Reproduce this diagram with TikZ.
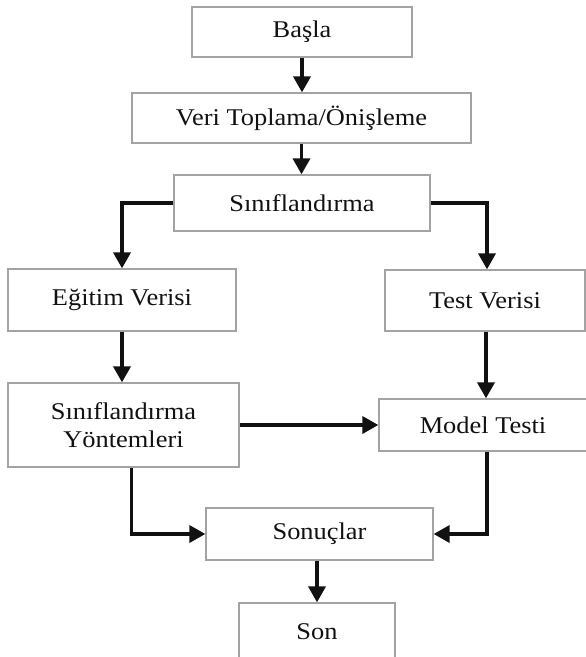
\documentclass[tikz,border=0pt]{standalone}
\usepackage{fontspec}
\setmainfont{Liberation Serif}[FakeStretch=1.1]
\usepackage{xcolor}
\usetikzlibrary{arrows.meta}
\definecolor{frame}{HTML}{A3A3A3}
\definecolor{ink}{HTML}{111111}

\begin{document}
\begin{tikzpicture}[x=1pt, y=-1pt,
  box/.style={draw=frame, line width=1.3pt, align=center, inner sep=0pt,
              font=\fontsize{24}{28}\selectfont\color{ink}},
  flow/.style={draw=ink, line width=3.5pt, -{Triangle[length=16pt, width=17pt]}}
]

  \useasboundingbox (0,0) rectangle (586,657);

  \node[box, minimum width=220pt, minimum height=50pt] (start) at (302,32) {Başla};
  \node[box, minimum width=339pt, minimum height=50pt] (prep) at (301.5,118) {Veri Toplama/Önişleme};
  \node[box, minimum width=256pt, minimum height=56pt] (cls) at (302,203) {Sınıflandırma};

  \node[box, minimum width=228pt, minimum height=62pt] (train) at (122,300) {Eğitim Verisi};
  \node[box, minimum width=200pt, minimum height=61pt] (test) at (485,300.5) {Test Verisi};

  \node[box, minimum width=231pt, minimum height=84pt] (meth) at (123.5,425) {Sınıflandırma\\Yöntemleri};
  \node[box, minimum width=208pt, minimum height=52pt] (mtest) at (483,425) {Model Testi};

  \node[box, minimum width=227pt, minimum height=52pt] (res) at (319.5,534) {Sonuçlar};
  \node[box, minimum width=156pt, minimum height=58pt] (stop) at (317,632) {Son};

  \draw[flow] (start.south) -- (start.south |- prep.north);
  \draw[flow] (prep.south) -- (prep.south |- cls.north);
  \draw[flow] (cls.west) -| (train.north);
  \draw[flow] (cls.east) -| ([xshift=2pt]test.north);
  \draw[flow] (train.south) -- (train.south |- meth.north);
  \draw[flow] ([xshift=1pt]test.south) -- ([xshift=1pt]test.south |- mtest.north);
  \draw[flow] (meth.east) -- (mtest.west);
  \draw[flow] ([xshift=8pt]meth.south) |- (res.west);
  \draw[flow] ([xshift=4pt]mtest.south) |- (res.east);
  \draw[flow] (res.south -| stop.north) -- (stop.north);

\end{tikzpicture}
\end{document}
